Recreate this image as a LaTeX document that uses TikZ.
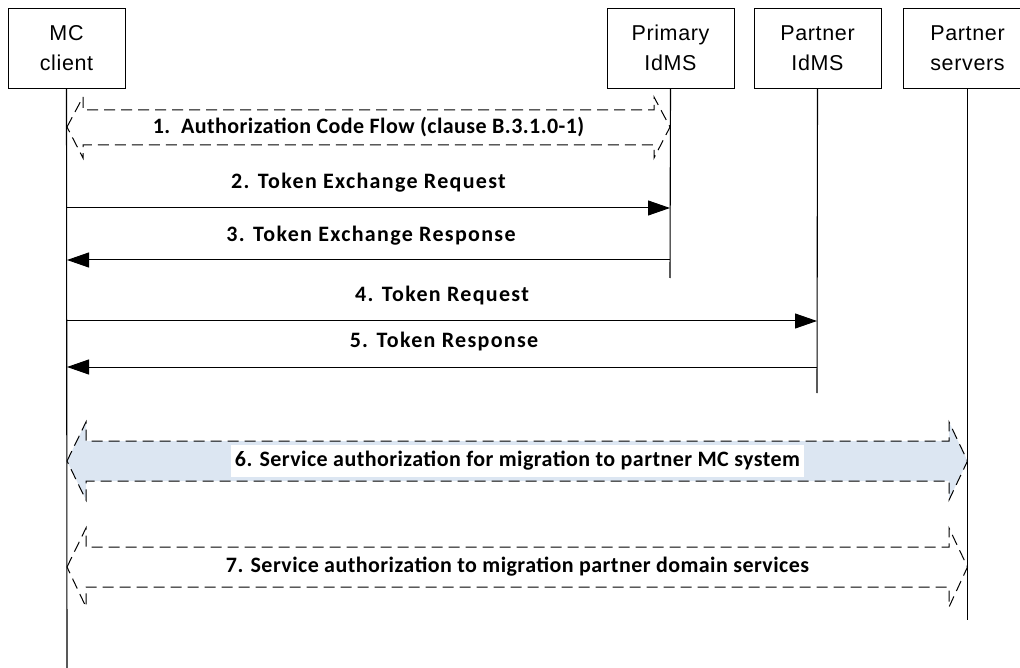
\documentclass[tikz,border=0pt]{standalone}
\usepackage{xcolor}
\usepackage{fontspec}
\setmainfont{Liberation Sans}
\newfontfamily\msgfont[LetterSpace=2]{Carlito}
\newfontfamily\msgwide[LetterSpace=6]{Carlito}
\usepackage{tikz}
\usetikzlibrary{arrows.meta}

\definecolor{flowblue}{RGB}{220,230,242}

\begin{document}
\begin{tikzpicture}[x=1pt,y=-1pt,
			entity/.style={draw,line width=0.9pt,minimum width=117pt,minimum height=80pt,
				align=center,font=\fontsize{21.5}{30}\selectfont\addfontfeature{LetterSpace=3}},
			life/.style={line width=1.1pt},
			msg/.style={line width=1pt,-{Triangle[length=22pt,width=15pt]}},
			lbl/.style={font=\msgfont\bfseries\fontsize{22}{24}\selectfont,inner sep=1pt},
			wlbl/.style={lbl,font=\msgwide\bfseries\fontsize{22}{24}\selectfont},
			flow/.style={line width=1pt,dash pattern=on 11pt off 6pt}]
	\useasboundingbox (0,0) rectangle (1020,668);
	% entities
	\node[entity] (mc) at (66.5,48) {MC\\client};
	\node[entity,minimum width=127pt] (pi) at (670.5,48) {Primary\\IdMS};
	\node[entity,minimum width=127pt] (pa) at (817.5,48) {Partner\\IdMS};
	\node[entity,minimum width=128pt] (ps) at (967.5,48) {Partner\\servers};
	% lifelines
	\coordinate (mcend) at (67,668);
	\coordinate (piend) at (670,278);
	\coordinate (paend) at (817,393);
	\coordinate (psend) at (967.5,620);
	\draw[life] (mc.south) -- (mcend);
	\draw[life] (pi.south) -- (piend);
	\draw[life] (pa.south) -- (paend);
	\draw[life] (ps.south) -- (psend);
	% 1
	\draw[flow] (67,127) -- (83,97) -- (83,110) -- (654,110) -- (654,97) -- (670,127)
		-- (654,158) -- (654,145) -- (83,145) -- (83,158) -- cycle;
	\node[lbl] (l1) at (368.5,127) {1.\ \ Authorization Code Flow (clause B.3.1.0-1)};
	% 2 - 5
	\draw[msg] (mcend |- 0,208) -- (piend |- 0,208);
	\node[wlbl] (l2) at (368.5,183) {2. Token Exchange Request};
	\draw[msg] (piend |- 0,260) -- (mcend |- 0,260);
	\node[wlbl] (l3) at (371,236) {3. Token Exchange Response};
	\draw[msg] (mcend |- 0,321) -- (paend |- 0,321);
	\node[wlbl] (l4) at (442,296) {4. Token Request};
	\draw[msg] (paend |- 0,367) -- (mcend |- 0,367);
	\node[wlbl] (l5) at (444,342) {5. Token Response};
	% 6
	\draw[flow,fill=flowblue] (67,461) -- (86,422) -- (86,441) -- (949,441) -- (949,422) -- (967.5,461)
		-- (949,500) -- (949,481) -- (86,481) -- (86,500) -- cycle;
	\node[lbl,fill=white,inner xsep=4pt,inner ysep=6pt] (l6) at (517.5,461) {6. Service authorization for migration to partner MC system};
	% 7
	\draw[flow] (67,567) -- (86,528) -- (86,547) -- (949,547) -- (949,528) -- (967.5,567)
		-- (949,607) -- (949,587) -- (86,587) -- (86,607) -- cycle;
	\node[lbl] (l7) at (517.5,567) {7. Service authorization to migration partner domain services};
\end{tikzpicture}
\end{document}
